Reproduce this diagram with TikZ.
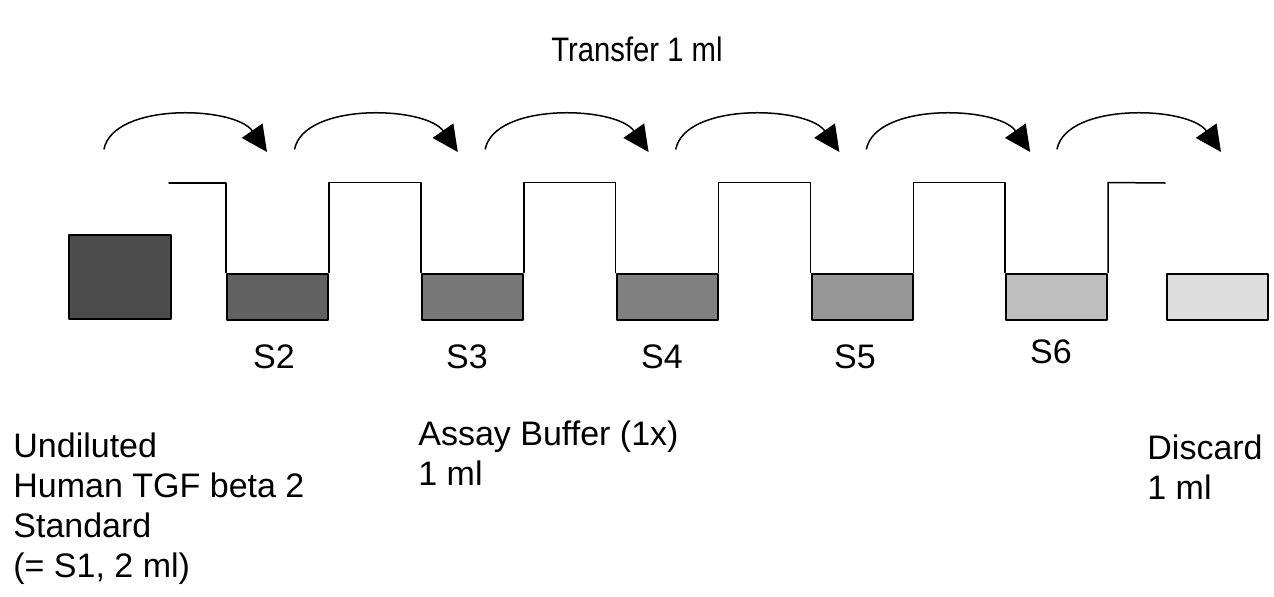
\documentclass[tikz,border=0pt]{standalone}
\usepackage{fontspec}
\setmainfont{Liberation Sans}
\usetikzlibrary{arrows.meta,positioning}
\definecolor{sone}{gray}{0.30}
\definecolor{stwo}{gray}{0.38}
\definecolor{sthree}{gray}{0.47}
\definecolor{sfour}{gray}{0.50}
\definecolor{sfive}{gray}{0.59}
\definecolor{ssix}{gray}{0.75}
\definecolor{sdiscard}{gray}{0.865}
\tikzset{
  liquid/.style={draw,line width=1pt,inner sep=0pt,minimum width=50.5pt,minimum height=23pt},
  rim/.style={line width=0.75pt},
  transfer/.style={line width=0.75pt,-{Triangle[length=13pt,width=12.5pt]}},
  lbl/.style={font=\fontsize{17}{20}\selectfont,inner sep=0pt,align=left}
}
\begin{document}
\begin{tikzpicture}[line cap=round,line join=round,x=0.5pt,y=-0.5pt]
\useasboundingbox (0,0) rectangle (1274,596);
% title
\node[lbl,anchor=base] (title) at (637,61) {\scalebox{0.86}[1]{Transfer 1 ml}};
% undiluted standard
\node[liquid,fill=sone,minimum width=51pt,minimum height=42pt] (s1) at (119.5,277) {};
% dilution tubes
\node[liquid,fill=stwo] (s2) at (277.5,296.5) {};
\node[liquid,fill=sthree] (s3) at (472.5,296.5) {};
\node[liquid,fill=sfour] (s4) at (667,296.5) {};
\node[liquid,fill=sfive] (s5) at (862,296.5) {};
\node[liquid,fill=ssix] (s6) at (1056.5,296.5) {};
\node[liquid,fill=sdiscard] (dis) at (1217,296.5) {};
% tube walls
\draw[rim] (169,183) -| (s2.north west);
\draw[rim] (s2.north east) -- ++(0,-90) -| (s3.north west);
\draw[rim] (s3.north east) -- ++(0,-90) -| (s4.north west);
\draw[rim] (s4.north east) -- ++(0,-90) -| (s5.north west);
\draw[rim] (s5.north east) -- ++(0,-90) -| (s6.north west);
\draw[rim] (s6.north east) -- ++(0,-90) -- (1165,183);
% transfer arrows
\foreach \i in {1,...,6}{
  \coordinate (from\i) at (104+190.6*\i-190.6,149);
  \coordinate (to\i) at (267+190.8*\i-190.8,152);
  \draw[transfer] (from\i) .. controls +(10,-47) and +(-32,-46) .. (to\i);
}
% tube names
\node[lbl,anchor=base] (n2) at (274,368) {S2};
\node[lbl,anchor=base] (n3) at (467,368) {S3};
\node[lbl,anchor=base] (n4) at (662,368) {S4};
\node[lbl,anchor=base] (n5) at (855,368) {S5};
\node[lbl,anchor=base] (n6) at (1051,363) {S6};
% notes
\node[lbl,anchor=base west] (std) at (13,577) {Undiluted\\Human TGF beta 2\\Standard\\(= S1, 2 ml)};
\node[lbl,anchor=base west] (buf) at (418,485) {Assay Buffer (1x)\\1 ml};
\node[lbl,anchor=base west] (waste) at (1147,499) {Discard\\1 ml};
\end{tikzpicture}
\end{document}
